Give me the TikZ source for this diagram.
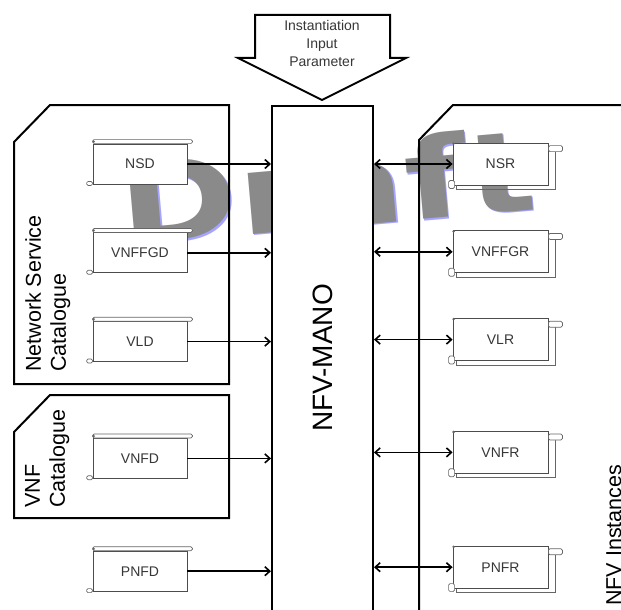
\documentclass[tikz,border=0pt]{standalone}
\usepackage{fontspec}
\setmainfont{Liberation Sans}
\newfontfamily\draftfont{DejaVu Sans}
\usetikzlibrary{arrows.meta,positioning}
\definecolor{txtgray}{RGB}{55,55,55}
\definecolor{wmgray}{RGB}{138,138,138}
\definecolor{wmblue}{RGB}{165,165,255}
\tikzstyle{catalog} = [draw, line width=2pt, line join=miter]
\tikzstyle{descr} = [draw=black!70, fill=white, line width=0.8pt, rectangle, minimum height=40pt, minimum width=94pt, inner sep=0pt, text=txtgray, font=\fontsize{14}{16}\selectfont]
\tikzstyle{record} = [descr, minimum height=42pt, minimum width=95pt]
\tikzstyle{roll} = [draw=black!60, fill=white, line width=0.7pt, rounded corners=1.5pt]
\tikzstyle{link} = [->, line width=1.6pt]
\tikzstyle{watermark} = [rotate=5, xscale=1.28, inner sep=0pt, font=\draftfont\bfseries\fontsize{112}{112}\selectfont]

\begin{document}
\begin{tikzpicture}[x=1pt, y=-1pt, >={Straight Barb[length=5pt,width=9pt]}]
    \clip (0,0) rectangle (621,610);
    % watermark lies under everything else
    \node[watermark, text=wmblue] (draftshade) at (328.5,187.5) {Draft};
    \node[watermark, text=wmgray] (draft) at (327,186) {Draft};

    % the three catalogue frames
    \draw[catalog] (14,142) -- (50,105) -- (229,105) -- (229,384) -- (14,384) -- cycle;
    \draw[catalog] (14,432) -- (50,395) -- (229,395) -- (229,518) -- (14,518) -- cycle;
    \draw[catalog] (419,640) -- (419,140) -- (453,105) -- (640,105);
    \node[rotate=90, anchor=north west, align=left, inner sep=0pt, font=\fontsize{21.5}{25}\selectfont] (nscat) at (25,372) {Network Service\\Catalogue};
    \node[rotate=90, anchor=north west, align=left, inner sep=0pt, font=\fontsize{21.5}{25}\selectfont] (vnfcat) at (25,508) {VNF\\Catalogue};
    \node[rotate=90, anchor=north west, inner sep=0pt, font=\fontsize{21.5}{25}\selectfont] (nfvinst) at (606,606) {NFV Instances};

    % input arrow and the MANO block
    \draw[line width=2pt, line join=miter, fill=white] (255,15) -- (390,15) -- (390,58) -- (406,58) -- (322,100) -- (238,58) -- (255,58) -- cycle;
    \node[align=center, text=txtgray, font=\fontsize{14}{18}\selectfont] (param) at (322,43) {Instantiation\\Input\\Parameter};
    \node[draw, line width=2pt, fill=white, minimum width=101pt, minimum height=520pt, inner sep=0pt] (mano) at (322.5,366) {};
    \node[rotate=90, font=\fontsize{28}{30}\selectfont] (manolabel) at ([yshift=8pt]mano.center) {NFV-MANO};

    % descriptors
    \node[descr] (nsd) at (140,164) {NSD};
    \node[descr, below=48pt of nsd] (vnffgd) {VNFFGD};
    \node[descr, below=48pt of vnffgd] (vld) {VLD};
    \node[descr, below=76pt of vld] (vnfd) {VNFD};
    \node[descr, below=72pt of vnfd] (pnfd) {PNFD};

    % records
    \node[record] (nsr) at (500.5,164) {NSR};
    \node[record, below=45pt of nsr] (vnffgr) {VNFFGR};
    \node[record, below=45pt of vnffgr] (vlr) {VLR};
    \node[record, below=70pt of vlr] (vnfr) {VNFR};
    \node[record, below=72pt of vnfr] (pnfr) {PNFR};

    \foreach \d in {nsd,vnffgd,vld,vnfd,pnfd} {
        \draw[roll] (\d.north west) rectangle ([xshift=5pt,yshift=4pt]\d.north east);
        \draw[roll] ([xshift=-6pt,yshift=3pt]\d.south west) rectangle ([yshift=-1pt]\d.south west);
        \fill[black!60] ([xshift=1pt,yshift=2pt]\d.north west) circle (1.4pt);
        \draw[link] (\d.east) -- (\d.east -| mano.west);
    }
    \foreach \r in {nsr,vnffgr,vlr,vnfr,pnfr} {
        \draw[draw=black!60, line width=0.7pt] ([xshift=4pt]\r.south west) -- ([xshift=4pt,yshift=-4pt]\r.south west) -- ([xshift=7pt,yshift=-4pt]\r.south east) -- ([xshift=7pt,yshift=-9pt]\r.north east);
        \draw[roll] ([yshift=-3pt]\r.north east) rectangle ([xshift=14pt,yshift=-9pt]\r.north east);
        \draw[roll] ([xshift=-4pt,yshift=5pt]\r.south west) rectangle ([xshift=2pt,yshift=-3pt]\r.south west);
        \fill[black!60] ([xshift=1pt,yshift=-1pt]\r.north west) circle (1.4pt);
        \draw[link, <->] (mano.east |- \r.west) -- (\r.west);
    }
\end{tikzpicture}
\end{document}
